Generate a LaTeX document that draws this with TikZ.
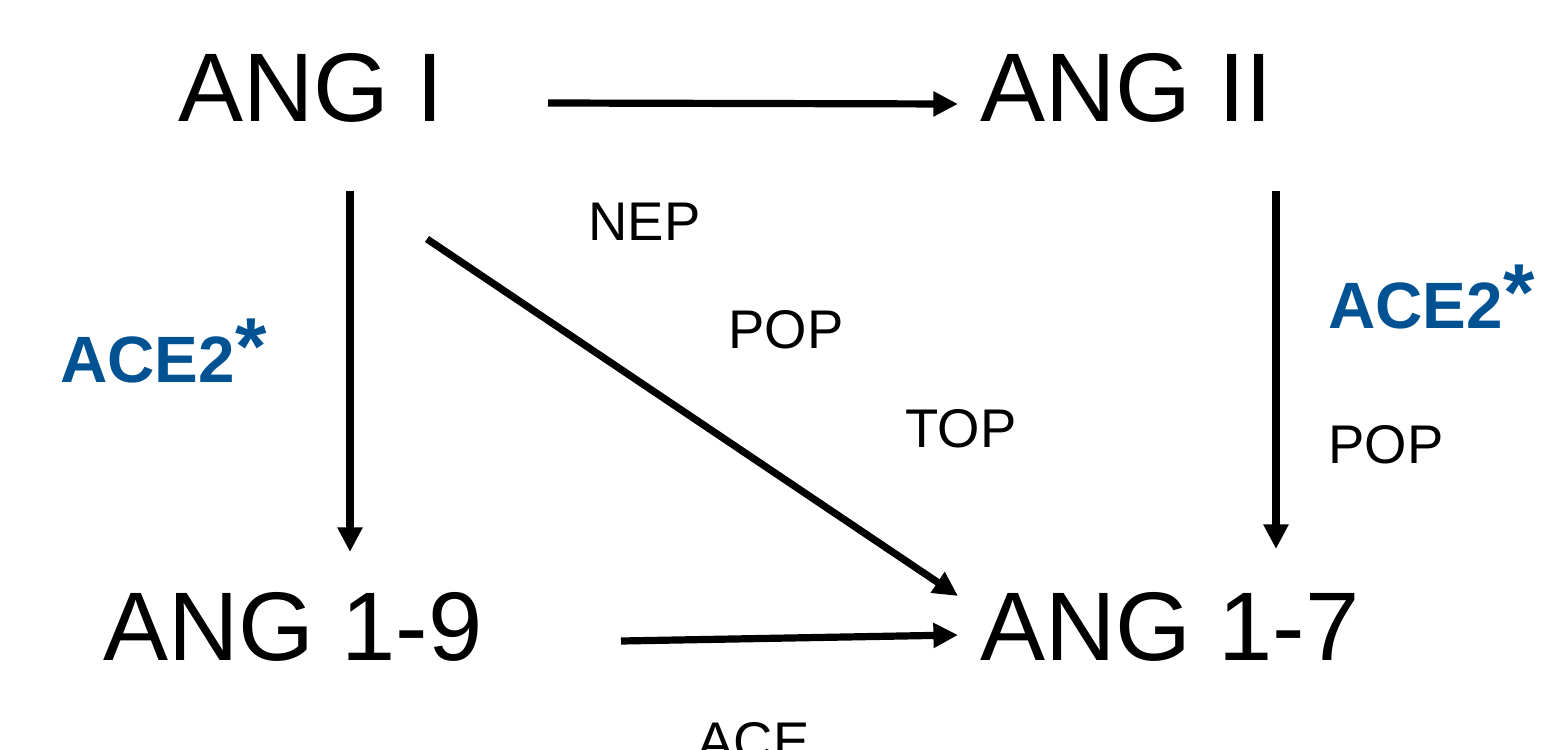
\documentclass[tikz,border=0pt]{standalone}
\usepackage{fontspec}
\setmainfont{Liberation Sans}
\usetikzlibrary{arrows.meta}
\definecolor{aceblue}{RGB}{0,82,147}
\newcommand{\aststar}{\raisebox{4pt}{\fontsize{46}{48}\selectfont *}}
\begin{document}
\begin{tikzpicture}[x=0.02cm,y=-0.02cm,
  big/.style={font=\fontsize{55.5}{60}\selectfont, inner sep=0, anchor=base west},
  lbl/.style={font=\fontsize{31}{34}\selectfont, inner sep=0, anchor=base west},
  ace/.style={font=\bfseries\fontsize{37.3}{40}\selectfont, text=aceblue, inner sep=0, anchor=base west},
  arr/.style={-{Triangle[length=14pt,width=13.5pt]}, line width=4.1pt}]
\useasboundingbox (0,0) rectangle (1556,750);
\node[big] (ang1) at (178,122) {ANG I};
\node[big] (ang2) at (980,122) {ANG II};
\node[big] (ang19) at (103,660) {ANG 1-9};
\node[big] (ang17) at (980,660) {ANG 1-7};
\node[lbl] (nep) at (588,240) {NEP};
\node[lbl] (pop1) at (728,348) {POP};
\node[lbl] (top) at (905,447) {TOP};
\node[lbl] (pop2) at (1328,463) {POP};
\node[lbl] (ace) at (697,760) {ACE};
\node[ace] (acel) at (60,382) {ACE2\aststar};
\node[ace] (acer) at (1328,328) {ACE2\aststar};
\coordinate (a1s) at (548,103);
\coordinate (a1e) at (958,104);
\coordinate (a2s) at (350,191);
\coordinate (a2e) at (350,552);
\coordinate (a3s) at (1276,191);
\coordinate (a3e) at (1276,549);
\coordinate (a4s) at (427,239);
\coordinate (a4e) at (958,596);
\coordinate (a5s) at (621,641);
\coordinate (a5e) at (958,635);
\draw[arr] (a1s) -- (a1e);
\draw[arr] (a2s) -- (a2e);
\draw[arr] (a3s) -- (a3e);
\draw[arr] (a4s) -- (a4e);
\draw[arr] (a5s) -- (a5e);
\end{tikzpicture}
\end{document}
